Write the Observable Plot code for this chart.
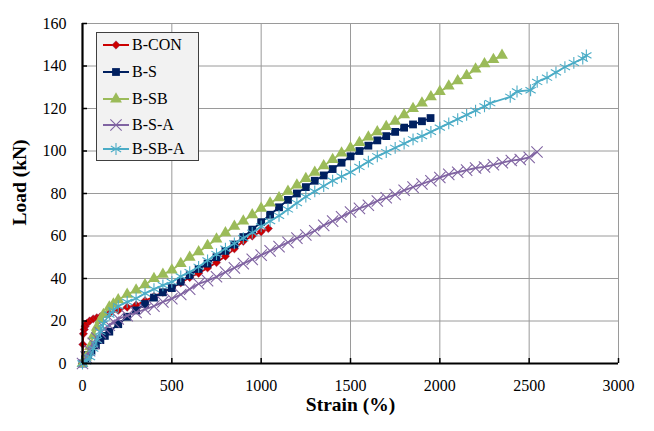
<!DOCTYPE html>
<html>
<head>
<meta charset="utf-8">
<script src="https://cdn.jsdelivr.net/npm/d3@7"></script>
<script src="https://cdn.jsdelivr.net/npm/@observablehq/plot@0.6"></script>
<style>
  html, body { margin: 0; padding: 0; background: #fff; }
  #wrap { position: relative; width: 654px; height: 431px; font-family: "Liberation Serif", "DejaVu Serif", "Noto Serif", serif; }
  #legend { position: absolute; left: 96px; top: 32px; width: 103px; height: 129px; background: #f2f2f2; border: 1px solid #404040; box-sizing: border-box; }
  .row { position: absolute; left: 0; height: 22px; display: flex; align-items: center; font-size: 16px; color: #000; font-family: "Liberation Serif", "DejaVu Serif", "Noto Serif", serif; }
  .row svg { margin-left: 5px; margin-right: 2px; }
</style>
</head>
<body>
<div id="wrap"><div id="chart"></div><div id="legend"></div></div>
<script>
// ---- data ----
const seriesNames = ["B-CON", "B-S", "B-SB", "B-S-A", "B-SB-A"];
const seriesColors = ["#cc0000", "#002060", "#9bbb59", "#8064a2", "#4bacc6"];
const xTicks = [0, 500, 1000, 1500, 2000, 2500, 3000];
const yTicks = [0, 20, 40, 60, 80, 100, 120, 140, 160];

const strainCON = [0, 2, 5, 10, 15, 25, 40, 60, 80, 100, 150, 200, 250, 300, 350, 400, 450, 500, 550, 600, 650, 700, 750, 800, 850, 900, 950, 1000, 1040];
const loadCON   = [0, 9, 14, 16, 17.5, 19, 20, 21, 21.5, 22, 23.5, 25, 26.5, 27.5, 29.5, 31.5, 33.5, 35.5, 38, 40.5, 42.5, 45, 47.5, 50.5, 54, 57.5, 60, 62, 63.5];

const strainS = [0, 15, 30, 50, 75, 100, 125, 150, 200, 250, 300, 350, 400, 450, 500, 550, 600, 650, 700, 750, 800, 850, 900, 950, 1000, 1050, 1100, 1150, 1200, 1250, 1300, 1350, 1400, 1450, 1500, 1550, 1600, 1650, 1700, 1750, 1800, 1850, 1900, 1948];
const loadS   = [0, 2, 4, 6, 8.5, 11, 13, 15, 18.5, 22, 25, 28, 31, 33.5, 35.5, 38.5, 41.5, 44.5, 47, 50, 53, 56, 59.5, 63, 66.5, 70, 73.5, 77, 80, 83, 86, 88.5, 91.5, 94.5, 97.5, 100, 102.5, 105, 107, 109, 111, 112.5, 114, 115.5];

const strainSB = [0, 20, 42, 60, 80, 100, 117, 150, 173, 200, 250, 300, 350, 400, 450, 500, 550, 600, 650, 700, 750, 800, 850, 900, 950, 1000, 1050, 1100, 1150, 1200, 1250, 1300, 1350, 1400, 1450, 1500, 1550, 1600, 1650, 1700, 1750, 1800, 1850, 1900, 1950, 2000, 2050, 2100, 2150, 2200, 2250, 2300, 2348];
const loadSB   = [0, 3, 8, 13, 17, 20.5, 23, 26.5, 28, 30, 32.5, 34.5, 37, 40, 42, 44, 47, 50, 52.5, 55.5, 58.5, 61.5, 64.5, 67, 70, 73, 75.5, 78, 81, 84, 87, 90, 93, 96, 99, 101.5, 104, 106.5, 109, 111.5, 114, 117, 120, 122.5, 125.5, 128, 130.5, 133, 135.5, 138.5, 141, 143, 145];

const strainSA = [0, 20, 40, 60, 80, 100, 125, 150, 175, 200, 250, 300, 350, 400, 450, 500, 550, 600, 650, 700, 750, 800, 850, 900, 950, 1000, 1050, 1100, 1150, 1200, 1250, 1300, 1350, 1400, 1450, 1500, 1550, 1600, 1650, 1700, 1750, 1800, 1850, 1900, 1950, 2000, 2050, 2100, 2150, 2200, 2250, 2300, 2350, 2400, 2450, 2500, 2544];
const loadSA   = [0, 3, 6, 9.5, 12, 14.5, 16.5, 18, 19.5, 21, 22.5, 24, 25.5, 27, 29, 30.5, 32.5, 35, 37.5, 39, 40.8, 43, 45, 47, 49, 51, 53, 55, 57, 59, 60.5, 62.5, 65, 67, 69, 71.3, 73, 74.5, 76.5, 78, 79.5, 81.5, 83, 84.5, 86, 87.5, 89, 90, 91, 92, 92.5, 93.5, 94.5, 95.5, 96, 97, 99.5];

const strainSBA = [0, 20, 42, 60, 80, 100, 117, 150, 173, 200, 250, 300, 350, 400, 450, 500, 550, 600, 650, 700, 750, 800, 850, 900, 950, 1000, 1050, 1100, 1150, 1200, 1250, 1300, 1350, 1400, 1450, 1500, 1550, 1600, 1650, 1700, 1750, 1800, 1850, 1900, 1950, 2000, 2050, 2100, 2150, 2200, 2250, 2282, 2394, 2432, 2508, 2545, 2600, 2650, 2700, 2750, 2800, 2820];
const loadSBA   = [0, 1, 3, 7, 11, 15, 18.8, 23, 25, 27, 29, 30.6, 33, 35, 36.8, 38.4, 41, 43, 45.5, 48.5, 51.5, 54, 56.5, 59, 61.5, 64.5, 67, 69.5, 72.5, 75.5, 78.5, 81, 83.5, 86, 88, 90, 92.5, 95, 97.5, 99.5, 101.5, 103.5, 105.5, 107, 109, 111, 113, 115, 117, 119, 121, 122.5, 125.5, 128, 128.6, 132.5, 134.5, 137, 139.5, 141.5, 143.5, 145];

// ---- tables ----
const toRows = (xs, ys, name) => xs.map((x, i) => ({strain: x, load: ys[i], series: name}));
const rows = [
  toRows(strainCON, loadCON, seriesNames[0]),
  toRows(strainS, loadS, seriesNames[1]),
  toRows(strainSB, loadSB, seriesNames[2]),
  toRows(strainSA, loadSA, seriesNames[3]),
  toRows(strainSBA, loadSBA, seriesNames[4])
];

const symbolStyle = [
  {symbol: "diamond2", r: 3.8, fill: seriesColors[0], stroke: "#7a3a7a", strokeWidth: 0.4},
  {symbol: "square", r: 4.4, fill: seriesColors[1], stroke: "none"},
  {symbol: "triangle", r: 4.4, fill: seriesColors[2], stroke: "none"},
  {symbol: "times", r: 5.2, fill: "none", stroke: seriesColors[3], strokeWidth: 1.1},
  {symbol: "asterisk", r: 5.6, fill: "none", stroke: seriesColors[4], strokeWidth: 1.1}
];

const seriesMarks = [];
rows.forEach((data, i) => {
  seriesMarks.push(Plot.line(data, {x: "strain", y: "load", stroke: seriesColors[i], strokeWidth: 1.8}));
  seriesMarks.push(Plot.dot(data, {x: "strain", y: "load", ...symbolStyle[i]}));
});

const serif = "'Liberation Serif', 'DejaVu Serif', 'Noto Serif', serif";
const fmt = d => String(d);

const chart = Plot.plot({
  width: 654,
  height: 431,
  marginLeft: 82,
  marginRight: 36,
  marginTop: 23,
  marginBottom: 68,
  style: {fontFamily: serif, fontSize: "16px", background: "transparent", color: "#000", overflow: "visible"},
  x: {domain: [0, 3000]},
  y: {domain: [0, 160]},
  marks: [
    Plot.gridX(xTicks, {stroke: "#9a9a9a", strokeOpacity: 1, strokeWidth: 1}),
    Plot.gridY(yTicks, {stroke: "#9a9a9a", strokeOpacity: 1, strokeWidth: 1}),
    ...seriesMarks,
    Plot.ruleX([0], {stroke: "#000", strokeWidth: 2.2}),
    Plot.ruleY([0], {stroke: "#000", strokeWidth: 2.2}),
    Plot.axisX(xTicks, {tickSize: 0, tickPadding: 16, label: null, fontSize: 16, tickFormat: fmt, fontFamily: serif}),
    Plot.axisY(yTicks, {tickSize: 0, tickPadding: 16, label: null, fontSize: 16, tickFormat: fmt, fontFamily: serif}),
    Plot.axisX(xTicks, {tickSize: -5, tickFormat: () => "", label: null, stroke: "#000", strokeWidth: 1.5}),
    Plot.axisY(yTicks, {tickSize: -5, tickFormat: () => "", label: null, stroke: "#000", strokeWidth: 1.5}),
    Plot.text(["Strain (%)"], {frameAnchor: "bottom", dy: 47, fontWeight: "bold", fontSize: 19.5, fontFamily: serif}),
    Plot.text(["Load (kN)"], {frameAnchor: "left", dx: -63, dy: -11, rotate: -90, textAnchor: "middle", fontWeight: "bold", fontSize: 19.5, fontFamily: serif})
  ]
});
document.getElementById("chart").appendChild(chart);

// ---- legend ----
const legend = document.getElementById("legend");
const symTypes = [d3.symbolDiamond2, d3.symbolSquare, d3.symbolTriangle, d3.symbolTimes, d3.symbolAsterisk];
const rowTops = [1, 28, 55, 81, 105];
seriesNames.forEach((name, i) => {
  const st = symbolStyle[i];
  const row = document.createElement("div");
  row.className = "row";
  row.style.top = rowTops[i] + "px";
  const ns = "http://www.w3.org/2000/svg";
  const svg = document.createElementNS(ns, "svg");
  svg.setAttribute("width", 28);
  svg.setAttribute("height", 20);
  const ln = document.createElementNS(ns, "line");
  ln.setAttribute("x1", 1); ln.setAttribute("x2", 27);
  ln.setAttribute("y1", 10); ln.setAttribute("y2", 10);
  ln.setAttribute("stroke", seriesColors[i]); ln.setAttribute("stroke-width", 2);
  svg.appendChild(ln);
  const p = document.createElementNS(ns, "path");
  p.setAttribute("d", d3.symbol(symTypes[i], Math.PI * st.r * st.r)());
  p.setAttribute("transform", "translate(14,10)");
  p.setAttribute("fill", st.fill);
  p.setAttribute("stroke", st.stroke);
  p.setAttribute("stroke-width", st.strokeWidth || 0);
  svg.appendChild(p);
  row.appendChild(svg);
  const t = document.createElement("span");
  t.textContent = name;
  row.appendChild(t);
  legend.appendChild(row);
});
</script>
</body>
</html>
